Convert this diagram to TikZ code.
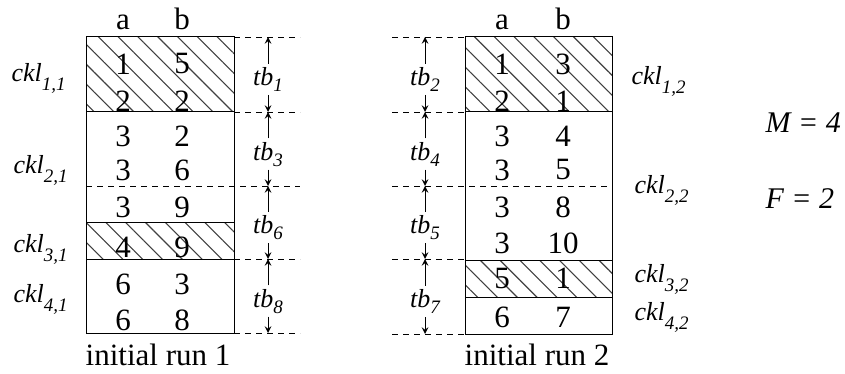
\documentclass[tikz,border=0pt]{standalone}
\usepackage{fontspec}
\setmainfont{Liberation Serif}
\usetikzlibrary{patterns.meta}

\newcommand\runfont{\fontsize{15.5}{18}\selectfont}
\newcommand\tagfont{\fontsize{13}{15}\selectfont\itshape}
\newcommand\lowsub[2]{\raisebox{-#1}{\fontsize{9.5}{11}\selectfont\itshape #2}}

\tikzset{
  hatch/.style={pattern={Lines[angle=-45,distance=7pt,line width=0.55pt]},pattern color=black!75},
  guide/.style={dash pattern=on 3pt off 2.5pt,line width=0.4pt},
  cell/.style={inner sep=0pt,font=\runfont},
  head/.style={inner sep=0pt,anchor=base,font=\runfont},
  lbl/.style={inner sep=0pt,anchor=base west,font=\tagfont},
  tbl/.style={inner sep=1.5pt,anchor=base,font=\tagfont},
  par/.style={inner sep=0pt,anchor=base west,font=\fontsize{15}{18}\selectfont\itshape},
}

\begin{document}
\begin{tikzpicture}[x=0.5pt,y=-0.5pt,>=stealth,line width=0.5pt]
  \useasboundingbox (0,0) rectangle (845,374);

  % run 1
  \fill[hatch] (86,37) rectangle (234,112);
  \fill[hatch] (86,222) rectangle (234,259);
  \draw (86,37) rectangle (234,333);
  \draw (86,112) -- (234,112);
  \draw (86,222) -- (234,222);
  \draw (86,259) -- (234,259);
  \draw[guide] (86,186) -- (300,186);
  \foreach \y in {37,112,259,333}
    \draw[guide] (234,\y) -- (300,\y);

  \node[head] (ha1) at (123,30) {a};
  \node[head] (hb1) at (182,30) {b};
  \foreach \a/\b/\y [count=\i] in {1/5/64,2/2/101,3/2/136,3/6/170,3/9/207,4/9/247,6/3/284,6/8/320} {
    \node[cell] (ra\i) at (123,\y) {\a};
    \node[cell] (rb\i) at (182,\y) {\b};
  }

  % time blocks of run 1
  \foreach \n/\ya/\yb in {1/37/112,3/112/186,6/186/259,8/259/333} {
    \coordinate (up\n) at (268,\ya);
    \coordinate (dn\n) at (268,\yb);
    \node[tbl] (tb\n) at (268,{(\ya+\yb)/2+11}) {tb\lowsub{3pt}{\n}};
    \draw[->] (tb\n) -- (up\n);
    \draw[->] (tb\n) -- (dn\n);
  }

  \node[lbl] (ckl11) at (11,82) {ckl\lowsub{4.5pt}{1,1}};
  \node[lbl] (ckl21) at (13,173) {ckl\lowsub{4.5pt}{2,1}};
  \node[lbl] (ckl31) at (13,252) {ckl\lowsub{4.5pt}{3,1}};
  \node[lbl] (ckl41) at (13,302) {ckl\lowsub{4.5pt}{4,1}};
  \node[head] (cap1) at (158,365) {initial run 1};

  % run 2
  \fill[hatch] (465,37) rectangle (612,112);
  \fill[hatch] (465,260) rectangle (612,297);
  \draw (465,37) rectangle (612,334);
  \draw (465,112) -- (612,112);
  \draw (465,260) -- (612,260);
  \draw (465,297) -- (612,297);
  \draw[guide] (392,186) -- (612,186);
  \foreach \y in {37,112,259,334}
    \draw[guide] (392,\y) -- (465,\y);

  \node[head] (ha2) at (502,30) {a};
  \node[head] (hb2) at (563,30) {b};
  \foreach \a/\b/\y [count=\i] in {1/3/64,2/1/101,3/4/136,3/5/170,3/8/207,3/10/243,5/1/278,6/7/317} {
    \node[cell] (sa\i) at (502,\y) {\a};
    \node[cell] (sb\i) at (563,\y) {\b};
  }

  % time blocks of run 2
  \foreach \n/\ya/\yb in {2/37/112,4/112/186,5/186/259,7/259/334} {
    \coordinate (up\n) at (425,\ya);
    \coordinate (dn\n) at (425,\yb);
    \node[tbl] (tb\n) at (425,{(\ya+\yb)/2+11}) {tb\lowsub{3pt}{\n}};
    \draw[->] (tb\n) -- (up\n);
    \draw[->] (tb\n) -- (dn\n);
  }

  \node[lbl] (ckl12) at (631,85) {ckl\lowsub{4.5pt}{1,2}};
  \node[lbl] (ckl22) at (634,193) {ckl\lowsub{4.5pt}{2,2}};
  \node[lbl] (ckl32) at (634,282) {ckl\lowsub{4.5pt}{3,2}};
  \node[lbl] (ckl42) at (634,320) {ckl\lowsub{4.5pt}{4,2}};
  \node[head] (cap2) at (537,365) {initial run 2};

  % parameters
  \node[par] (mm) at (765,133) {M = 4};
  \node[par] (ff) at (765,208) {F = 2};
\end{tikzpicture}
\end{document}
